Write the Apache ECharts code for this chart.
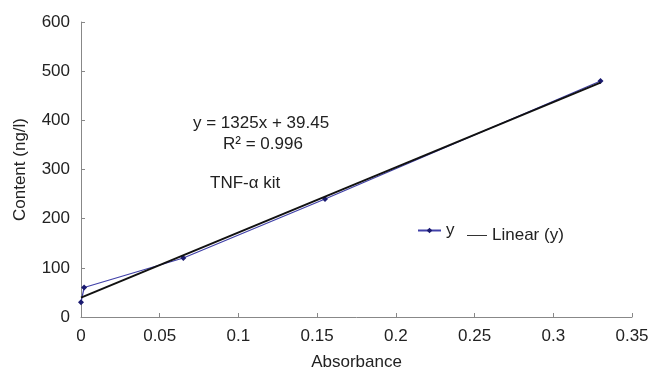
<!DOCTYPE html>
<html>
<head>
<meta charset="utf-8">
<script src="https://cdn.jsdelivr.net/npm/echarts@6/dist/echarts.min.js"></script>
<style>html,body{margin:0;padding:0;background:#fff}#c{width:653px;height:376px}</style>
</head>
<body>
<div id="c"></div>
<script>
var absorbance = [0, 0.002, 0.065, 0.155, 0.33];
var content = [30, 60, 120, 240, 480];
var trendX = [0, 0.33];
var trendY = [39.45, 476.7];
var xTicks = [0, 0.05, 0.1, 0.15, 0.2, 0.25, 0.3, 0.35];
var yTicks = [0, 100, 200, 300, 400, 500, 600];

var font = '"Liberation Sans", Arial, sans-serif';
var FS = 17;
var chart = echarts.init(document.getElementById('c'), null, {renderer: 'canvas'});
var axisCommon = {
  axisLine: {show: true, lineStyle: {color: '#888', width: 1}},
  axisTick: {show: true, inside: true, length: 4, lineStyle: {color: '#888'}},
  splitLine: {show: false}
};
chart.setOption({
  animation: false,
  grid: {left: 81, right: 21, top: 22, bottom: 56},
  xAxis: Object.assign({}, axisCommon, {
    type: 'value', min: xTicks[0], max: xTicks[xTicks.length - 1], interval: 0.05,
    name: 'Absorbance', nameLocation: 'middle', nameGap: 37,
    nameTextStyle: {color: '#222', fontFamily: font, fontSize: FS},
    axisLabel: {color: '#222', fontFamily: font, fontSize: FS, margin: 11,
      formatter: function (v) { return String(+v.toFixed(2)); }}
  }),
  yAxis: Object.assign({}, axisCommon, {
    type: 'value', min: yTicks[0], max: yTicks[yTicks.length - 1], interval: 100,
    name: 'Content (ng/l)', nameLocation: 'middle', nameGap: 52, nameRotate: 90,
    nameTextStyle: {color: '#222', fontFamily: font, fontSize: FS},
    axisLabel: {color: '#222', fontFamily: font, fontSize: FS, margin: 11}
  }),
  legend: [
    {
      left: 412, top: 217, itemGap: 14, itemWidth: 23, itemHeight: 7,
      textStyle: {color: '#222', fontFamily: font, fontSize: FS},
      data: ['y']
    },
    {
      left: 462, top: 222, itemWidth: 20, itemHeight: 1,
      textStyle: {color: '#222', fontFamily: font, fontSize: FS},
      data: [{name: 'Linear (y)', icon: 'rect', itemStyle: {color: '#333'}}]
    }
  ],
  series: [
    {
      name: 'y', type: 'line',
      data: absorbance.map(function (x, i) { return [x, content[i]]; }),
      symbol: 'diamond', symbolSize: 6,
      itemStyle: {color: '#1a1a70'},
      lineStyle: {color: '#4040a8', width: 1.2},
      z: 2
    },
    {
      name: 'Linear (y)', type: 'line',
      data: trendX.map(function (x, i) { return [x, trendY[i]]; }),
      symbol: 'none',
      itemStyle: {color: '#333'},
      lineStyle: {color: '#111', width: 2},
      z: 3
    }
  ],
  graphic: [
    {type: 'text', left: 193, top: 115, style: {text: 'y = 1325x + 39.45', fill: '#222', font: FS + 'px ' + font}},
    {type: 'text', left: 223, top: 136, style: {text: 'R\u00b2 = 0.996', fill: '#222', font: FS + 'px ' + font}},
    {type: 'text', left: 210, top: 175, style: {text: 'TNF-\u03b1 kit', fill: '#222', font: FS + 'px ' + font}}
  ]
});
</script>
</body>
</html>
